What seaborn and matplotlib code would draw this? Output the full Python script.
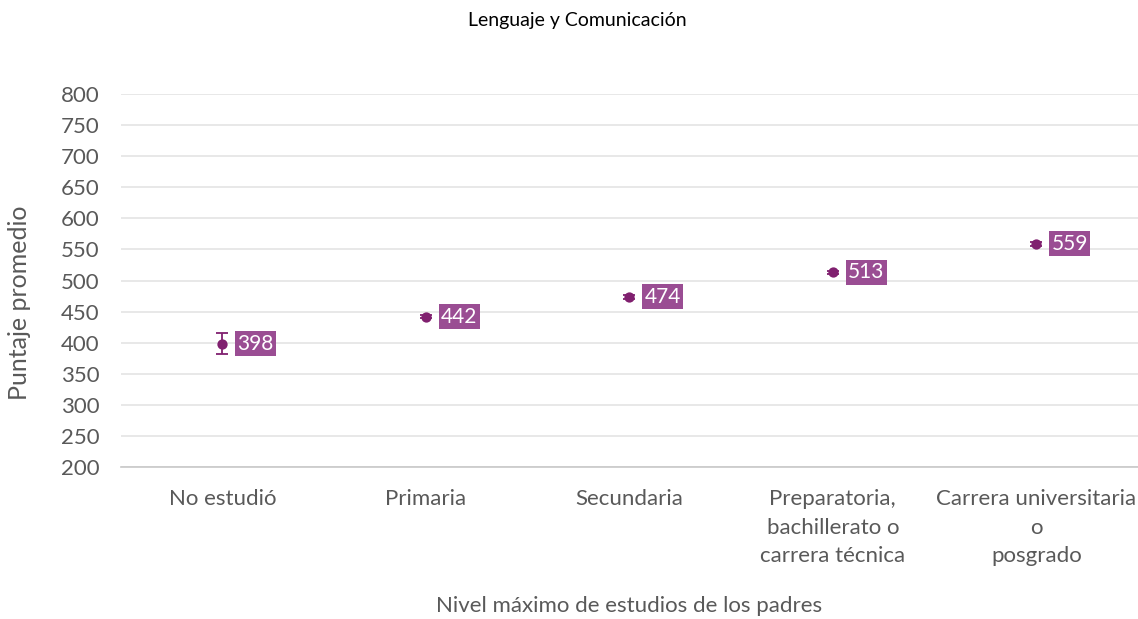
import matplotlib
matplotlib.use("Agg")
import matplotlib.pyplot as plt
import numpy as np
import pandas as pd
import seaborn as sns

# data
niveles = ["No estudió", "Primaria", "Secundaria",
           "Preparatoria,\nbachillerato o\ncarrera técnica",
           "Carrera universitaria\no\nposgrado"]
puntajes = [398, 442, 474, 513, 559]
errores = [17, 3, 3, 3, 3]
yticks = list(range(200, 801, 50))

sns.set_theme(style="white")
plt.rcParams['font.family'] = ['Lato', 'DejaVu Sans']

MARKER = "#80206F"
BOX = "#9A4D93"
TXT = "#595959"

df = pd.DataFrame({"nivel": niveles, "puntaje": puntajes, "error": errores})

fig = plt.figure(figsize=(11.38, 6.19), dpi=100)
ax = fig.add_axes([0.106, 0.2456, 0.894, 0.6024])

ax.errorbar(np.arange(len(df)), df["puntaje"], yerr=df["error"], fmt="none",
            ecolor=MARKER, elinewidth=1.3, capsize=4, capthick=1.3, zorder=3)
sns.scatterplot(data=df, x="nivel", y="puntaje", ax=ax, color=MARKER,
                s=55, edgecolor=MARKER, linewidth=0, zorder=4)

for i, v in enumerate(df["puntaje"]):
    ax.annotate(str(v), xy=(i, v), xytext=(11, 0), textcoords="offset points",
                ha="left", va="center", color="white", fontsize=15,
                bbox=dict(boxstyle="square,pad=0.12", fc=BOX, ec="none"), zorder=5)

ax.set_xlim(-0.5, len(df) - 0.5)
ax.set_ylim(200, 800)
ax.set_yticks(yticks)
ax.yaxis.grid(True, color="#e4e4e4", linewidth=1.2)
ax.set_axisbelow(True)
for s in ["top", "right", "left"]:
    ax.spines[s].set_visible(False)
ax.spines["bottom"].set_color("#c8c8c8")
ax.spines["bottom"].set_linewidth(1.2)
ax.tick_params(axis="both", length=0, labelsize=16, colors=TXT)
ax.tick_params(axis="x", pad=16)
ax.tick_params(axis="y", pad=15)
for lbl in ax.get_xticklabels():
    lbl.set_multialignment("center")
    lbl.set_linespacing(1.52)

ax.set_xlabel("Nivel máximo de estudios de los padres", fontsize=16, color=TXT, labelpad=22)
ax.set_ylabel("Puntaje promedio", fontsize=18, color=TXT)
ax.yaxis.set_label_coords(-0.088, 0.44)
fig.text(0.507, 0.967, "Lenguaje y Comunicación", ha="center", va="center",
         fontsize=14, color="black")

fig.savefig("out.png", dpi=100)
